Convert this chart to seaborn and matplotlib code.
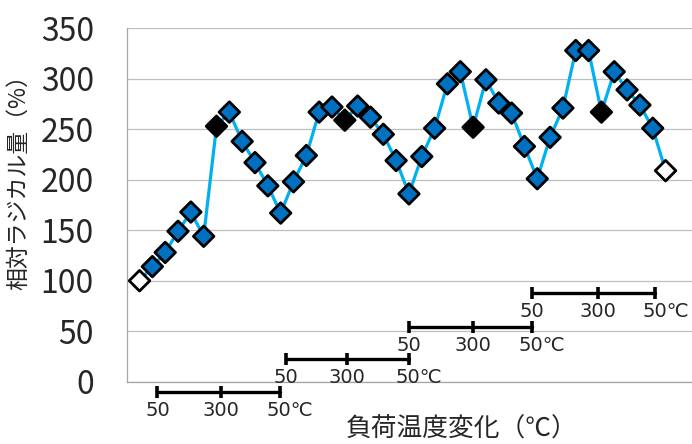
import pandas as pd
import seaborn as sns
import matplotlib.pyplot as plt

# data (relative radical amount, %)
step = list(range(1, 43))
radical = [100, 114, 128, 149, 168, 144, 253, 267, 238, 217,
           194, 167, 198, 224, 267, 272, 259, 273, 262, 245,
           219, 186, 223, 251, 295, 307, 252, 299, 276, 266,
           233, 201, 242, 271, 328, 328, 267, 307, 289, 274,
           251, 209]
kind = ['white'] + ['blue'] * 5 + ['black'] + ['blue'] * 9 + ['black'] + ['blue'] * 9 \
    + ['black'] + ['blue'] * 9 + ['black'] + ['blue'] * 4 + ['white']

y_ticks = [0, 50, 100, 150, 200, 250, 300, 350]
cycle_labels = ['50', '300', '50℃']
# temperature-cycle brackets: start / peak / end step, height on the y scale
cycle_x = [(2.4, 7.35, 11.95), (12.4, 17.2, 22.0), (22.0, 27.0, 31.6), (31.6, 36.7, 41.2)]
cycle_y = [-10.5, 22.4, 53.8, 87.4]

df = pd.DataFrame({'step': step, 'radical': radical, 'kind': kind})

sns.set_style('white')
plt.rcParams['font.family'] = ['Noto Sans CJK JP', 'DejaVu Sans']

fig = plt.figure(figsize=(6.92, 4.44), dpi=100)
ax = fig.add_axes([126.7 / 692, 62.3 / 444, 565.3 / 692, 353.4 / 444])

sns.lineplot(data=df, x='step', y='radical', color='#00B0F0', linewidth=2.3, ax=ax, zorder=2)
sns.scatterplot(data=df, x='step', y='radical', hue='kind', marker='D', s=110,
                palette={'white': 'white', 'blue': '#0070C0', 'black': 'black'},
                edgecolor='black', linewidth=2.0, legend=False, ax=ax, zorder=3, clip_on=False)

ax.set_xlim(0, 565.3 / 12.83)
ax.set_ylim(0, 350)
ax.set_yticks(y_ticks)
ax.set_xticks(range(0, 45, 5))
ax.set_xticklabels([])
ax.set_xlabel('')
ax.set_ylabel('')

grey = '#a6a6a6'
ax.yaxis.grid(True, color='#bfbfbf', linewidth=0.9)
ax.xaxis.grid(False)
for side in ['top', 'right']:
    ax.spines[side].set_visible(False)
for side in ['left', 'bottom']:
    ax.spines[side].set_color(grey)
    ax.spines[side].set_linewidth(0.9)
ax.tick_params(axis='y', length=8.6, width=0.9, color=grey, pad=15, labelsize=23)
ax.tick_params(axis='x', length=3.8, width=0.9, color=grey)

lab_font = ['DejaVu Sans', 'Noto Sans CJK JP']
for (x0, xm, x1), yb in zip(cycle_x, cycle_y):
    ax.plot([x0, xm, x1], [yb] * 3, color='black', linewidth=2.4, marker='|',
            markersize=8, markeredgewidth=2.6, clip_on=False, zorder=4)
    for xv, lab in zip([x0, xm], cycle_labels[:2]):
        ax.annotate(lab, (xv, yb), xytext=(0, -13), textcoords='offset points',
                    ha='center', va='center', fontsize=14, family=lab_font,
                    annotation_clip=False)
    ax.annotate(cycle_labels[2], (x1, yb), xytext=(-9.5, -13), textcoords='offset points',
                ha='left', va='center', fontsize=14, family=lab_font,
                annotation_clip=False)

fig.text(19 / 692, 1 - 177 / 444, '相対ラジカル量（%）', rotation=90,
         ha='center', va='center', fontsize=16.5)
fig.text(462 / 692, 1 - 430 / 444, '負荷温度変化（℃）', ha='center', va='center', fontsize=18.5)

fig.savefig('out.png', dpi=100)
